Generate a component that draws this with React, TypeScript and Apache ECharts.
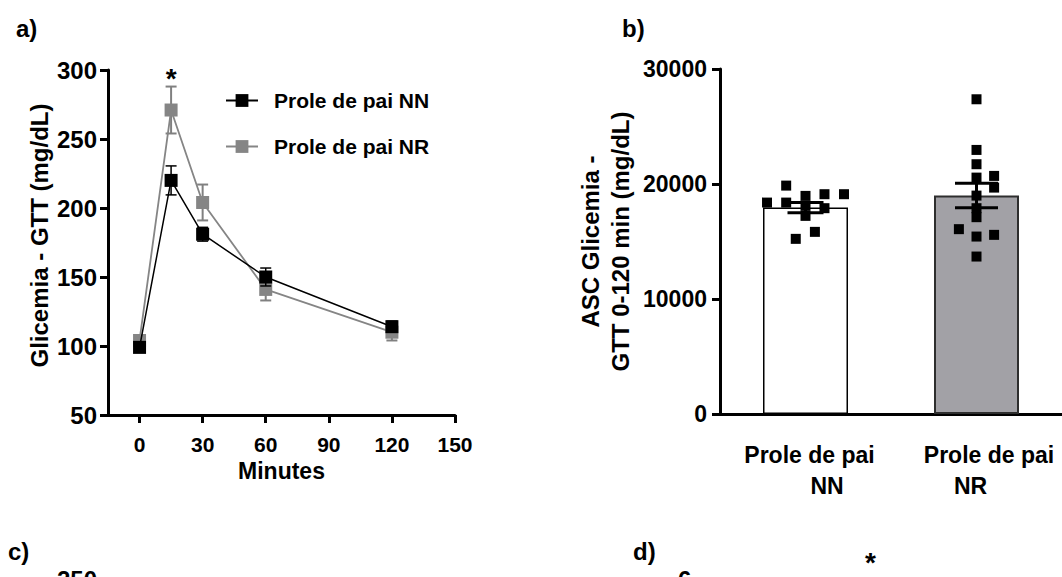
import React, { useEffect, useRef } from "react";
import * as echarts from "echarts";

// ---- Panel a: GTT time course ----
const minutes = [0, 15, 30, 60, 120];
const nnMean = [99, 220, 181, 150, 114];
const nnSem = [3, 10.5, 5, 6.5, 4];
const nrMean = [104, 271, 204, 141, 110];
const nrSem = [3, 17, 13, 8, 6];
const xTicksA = [0, 30, 60, 90, 120, 150];
const groupNames = ["Prole de pai NN", "Prole de pai NR"];

// ---- Panel b: AUC ----
const barCategories = [["Prole de pai", "NN"], ["Prole de pai", "NR"]];
const barPos = [0.5, 1.5];
const barMeans = [17950, 19000];
const barSems = [440, 1060];
const nnPointValues = [18384, 19861, 18384, 18966, 18097, 17228, 19113, 17897, 19113, 15230, 15838];
const nnPointJitter = [-0.225, -0.113, -0.113, 0, 0, 0, 0.111, 0.111, 0.225, -0.057, 0.055];
const nrPointValues = [27368, 22963, 21720, 20556, 20704, 19687, 18992, 17897, 17115, 16073, 15430, 15578, 13692];
const nrPointJitter = [0, 0, 0, 0, 0.103, 0.103, 0, 0, 0, -0.103, 0, 0.103, 0];

const FONT = "Liberation Sans, Arial, Helvetica, sans-serif";

function errRender(color: string, lw: number, capHalf: number[] | number) {
  return (params: any, api: any) => {
    const x = api.value(0);
    const lo = api.value(1);
    const hi = api.value(2);
    const top = api.coord([x, hi]);
    const bot = api.coord([x, lo]);
    const hw = Array.isArray(capHalf) ? capHalf[params.dataIndex] : capHalf;
    const style = { stroke: color, lineWidth: lw };
    return {
      type: "group",
      children: [
        { type: "line", shape: { x1: top[0], y1: top[1], x2: bot[0], y2: bot[1] }, style },
        { type: "line", shape: { x1: top[0] - hw, y1: top[1], x2: top[0] + hw, y2: top[1] }, style },
        { type: "line", shape: { x1: bot[0] - hw, y1: bot[1], x2: bot[0] + hw, y2: bot[1] }, style },
      ],
    };
  };
}

export default function App() {
  const ref = useRef<HTMLDivElement>(null);
  useEffect(() => {
    if (!ref.current) return;
    const chart = echarts.init(ref.current, null, { renderer: "svg" });
    const axisCommon = {
      axisLine: { onZero: false, lineStyle: { color: "#000", width: 3 } },
      axisTick: { length: 8, lineStyle: { color: "#000", width: 3 } },
      splitLine: { show: false },
    };
    const lab = { fontSize: 23, fontWeight: "bold", color: "#000", lineHeight: 31, fontFamily: FONT };
    const option: any = {
      animation: false,
      textStyle: { fontFamily: FONT },
      grid: [
        { left: 108, top: 70, width: 347, height: 345 },
        { left: 720, top: 69, width: 345, height: 345 },
      ],
      legend: {
        data: groupNames,
        orient: "vertical",
        left: 220,
        top: 85,
        itemWidth: 32,
        itemHeight: 16,
        itemGap: 25,
        selectedMode: false,
        textStyle: { fontSize: 21, fontWeight: "bold", color: "#000", fontFamily: FONT, padding: [0, 0, 0, 11] },
      },
      xAxis: [
        {
          type: "value",
          gridIndex: 0,
          min: -15,
          max: 150,
          ...axisCommon,
          axisTick: { ...axisCommon.axisTick, customValues: xTicksA },
          axisLabel: { customValues: xTicksA, fontSize: 21, fontWeight: "bold", color: "#000", margin: 19, fontFamily: FONT },
          name: "Minutes",
          nameLocation: "middle",
          nameGap: 43,
          nameTextStyle: { fontSize: 23, fontWeight: "bold", color: "#000", fontFamily: FONT },
        },
        {
          type: "value",
          gridIndex: 1,
          min: 0,
          max: 2,
          ...axisCommon,
          axisTick: { show: false },
          axisLabel: {
            customValues: barPos,
            margin: 25,
            formatter: (v: number) => {
              const i = barPos.indexOf(v);
              if (i < 0) return "";
              const c = barCategories[i];
              return i === 0 ? `{a0|${c[0]}}\n{b0|${c[1]}}` : `{a1|${c[0]}}\n{b1|${c[1]}}`;
            },
            rich: {
              a0: { ...lab, padding: [0, 0, 0, 8] },
              b0: { ...lab, padding: [0, 0, 0, 43] },
              a1: { ...lab, padding: [0, 0, 0, 25] },
              b1: { ...lab, padding: [0, 12, 0, 0] },
            },
          },
        },
      ],
      yAxis: [
        {
          type: "value",
          gridIndex: 0,
          min: 50,
          max: 300,
          interval: 50,
          ...axisCommon,
          axisLabel: { fontSize: 24, fontWeight: "bold", color: "#000", margin: 11, fontFamily: FONT },
          name: "Glicemia - GTT (mg/dL)",
          nameLocation: "middle",
          nameRotate: 90,
          nameGap: 57,
          nameTextStyle: { fontSize: 24, fontWeight: "bold", color: "#000", fontFamily: FONT, padding: [0, 0, 0, 14] },
        },
        {
          type: "value",
          gridIndex: 1,
          min: 0,
          max: 30000,
          interval: 10000,
          ...axisCommon,
          axisLabel: {
            fontSize: 23,
            fontWeight: "bold",
            color: "#000",
            margin: 13,
            fontFamily: FONT,
            formatter: (v: number) => String(v),
          },
          name: "ASC Glicemia -\nGTT 0-120 min (mg/dL)",
          nameLocation: "middle",
          nameRotate: 90,
          nameGap: 85,
          nameTextStyle: { fontSize: 24, fontWeight: "bold", color: "#000", lineHeight: 30, fontFamily: FONT },
        },
      ],
      series: [
        {
          type: "custom",
          name: "errNR",
          xAxisIndex: 0,
          yAxisIndex: 0,
          z: 2,
          renderItem: errRender("#808080", 2, 5.5),
          data: minutes.map((m, i) => [m, nrMean[i] - nrSem[i], nrMean[i] + nrSem[i]]),
        },
        {
          type: "line",
          name: groupNames[1],
          xAxisIndex: 0,
          yAxisIndex: 0,
          z: 3,
          symbol: "rect",
          symbolSize: 13,
          data: minutes.map((m, i) => [m, nrMean[i]]),
          lineStyle: { color: "#858585", width: 1.8 },
          itemStyle: { color: "#858585" },
          markPoint: {
            symbol: "circle",
            symbolSize: 0,
            data: [{ coord: [15, 294], value: "*" }],
            label: { show: true, formatter: "*", fontSize: 28, fontWeight: "bold", color: "#000", fontFamily: FONT },
          },
        },
        {
          type: "custom",
          name: "errNN",
          xAxisIndex: 0,
          yAxisIndex: 0,
          z: 4,
          renderItem: errRender("#000", 1.5, 5.5),
          data: minutes.map((m, i) => [m, nnMean[i] - nnSem[i], nnMean[i] + nnSem[i]]),
        },
        {
          type: "line",
          name: groupNames[0],
          xAxisIndex: 0,
          yAxisIndex: 0,
          z: 5,
          symbol: "rect",
          symbolSize: 13,
          data: minutes.map((m, i) => [m, nnMean[i]]),
          lineStyle: { color: "#000", width: 1.5 },
          itemStyle: { color: "#000" },
        },
        {
          type: "bar",
          name: "auc",
          xAxisIndex: 1,
          yAxisIndex: 1,
          barWidth: 85,
          data: barPos.map((p, i) => ({
            value: [p, barMeans[i]],
            itemStyle:
              i === 0
                ? { color: "#ffffff", borderColor: "#000", borderWidth: 1.5 }
                : { color: "#a2a1a6", borderColor: "#2e2e2e", borderWidth: 2 },
          })),
        },
        {
          type: "scatter",
          name: "ptsNN",
          xAxisIndex: 1,
          yAxisIndex: 1,
          symbol: "rect",
          symbolSize: 10,
          itemStyle: { color: "#000", opacity: 1 },
          data: nnPointValues.map((v, i) => [barPos[0] + nnPointJitter[i], v]),
        },
        {
          type: "scatter",
          name: "ptsNR",
          xAxisIndex: 1,
          yAxisIndex: 1,
          symbol: "rect",
          symbolSize: 10,
          itemStyle: { color: "#000", opacity: 1 },
          data: nrPointValues.map((v, i) => [barPos[1] + nrPointJitter[i], v]),
        },
        {
          type: "custom",
          name: "errAUC",
          xAxisIndex: 1,
          yAxisIndex: 1,
          z: 6,
          renderItem: errRender("#000", 3, [18, 21.5]),
          data: barPos.map((p, i) => [p, barMeans[i] - barSems[i], barMeans[i] + barSems[i]]),
        },
      ],
      graphic: [
        { type: "text", left: 16, top: 16, style: { text: "a)", font: `bold 24px ${FONT}`, fill: "#000" } },
        { type: "text", left: 622, top: 16, style: { text: "b)", font: `bold 24px ${FONT}`, fill: "#000" } },
        { type: "text", left: 8, top: 539, style: { text: "c)", font: `bold 24px ${FONT}`, fill: "#000" } },
        { type: "text", left: 633, top: 539, style: { text: "d)", font: `bold 24px ${FONT}`, fill: "#000" } },
        { type: "text", left: 865, top: 548, style: { text: "*", font: `bold 28px ${FONT}`, fill: "#000" } },
        { type: "text", left: 57, top: 567, style: { text: "250", font: `bold 24px ${FONT}`, fill: "#000" } },
        { type: "text", left: 678, top: 567, style: { text: "6", font: `bold 24px ${FONT}`, fill: "#000" } },
      ],
    };
    chart.setOption(option);
    return () => chart.dispose();
  }, []);
  return (
    <div
      ref={ref}
      style={{ position: "absolute", left: 0, top: 0, width: 1062, height: 577, background: "#fff" }}
    />
  );
}
